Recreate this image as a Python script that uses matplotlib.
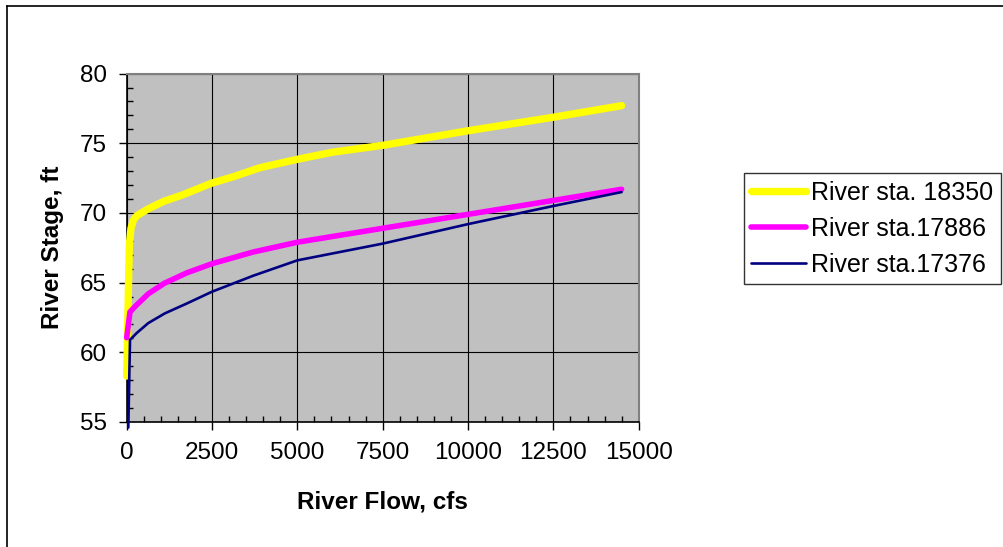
"""Rating curves (stage vs flow) at three river stations, Excel-style chart."""
import matplotlib
matplotlib.use("Agg")
import matplotlib.pyplot as plt
from matplotlib.lines import Line2D
from matplotlib.ticker import MultipleLocator

plt.rcParams["font.family"] = ["Liberation Sans", "DejaVu Sans"]

# station 18350
flow_18350 = [0, 47, 77, 125, 200, 293, 633, 1100, 1640, 2500, 3125, 3905,
              5000, 6055, 7500, 10000, 12500, 14500]
stage_18350 = [58.3, 64.1, 67.7, 68.9, 69.5, 69.8, 70.3, 70.85, 71.3, 72.15,
               72.6, 73.25, 73.85, 74.37, 74.85, 75.9, 76.87, 77.7]

# station 17886
flow_17886 = [0, 97, 250, 633, 1100, 1758, 2500, 3710, 5000, 7500, 10000,
              12500, 14500]
stage_17886 = [61.05, 62.9, 63.3, 64.2, 64.95, 65.7, 66.36, 67.2, 67.9, 68.9,
               69.9, 70.9, 71.7]

# station 17376
flow_17376 = [47, 97, 300, 633, 1122, 1758, 2500, 3710, 5000, 7500, 10000,
              12500, 14500]
stage_17376 = [54.6, 60.9, 61.4, 62.1, 62.8, 63.5, 64.35, 65.5, 66.6, 67.8,
               69.2, 70.5, 71.5]

labels = ["River sta. 18350", "River sta.17886", "River sta.17376"]
colors = ["#FFFF00", "#FF00FF", "#000080"]
widths = [5.3, 4.0, 1.9]

W, H = 1004, 547
fig = plt.figure(figsize=(W / 100, H / 100), dpi=100)
ax = fig.add_axes([126.7 / W, 1 - 422 / H, 512 / W, 348.4 / H])
ax.set_facecolor("#C0C0C0")

series = [(flow_18350, stage_18350), (flow_17886, stage_17886),
          (flow_17376, stage_17376)]
for (x, y), lab, c, lw in zip(series, labels, colors, widths):
    ax.plot(x, y, color=c, lw=lw, label=lab, solid_capstyle="round",
            solid_joinstyle="round", clip_on=False, zorder=3)

ax.set_xlim(0, 15000)
ax.set_ylim(55, 80)
ax.xaxis.set_major_locator(MultipleLocator(2500))
ax.xaxis.set_minor_locator(MultipleLocator(500))
ax.yaxis.set_major_locator(MultipleLocator(5))
ax.yaxis.set_minor_locator(MultipleLocator(1))
ax.grid(True, which="major", color="black", lw=0.8, zorder=1)
ax.set_axisbelow(True)

ax.tick_params(which="major", direction="out", length=5.8, width=1,
               labelsize=17.5, pad=8.5)
ax.tick_params(which="minor", direction="in", length=4.3, width=1)
for side in ("left", "bottom"):
    ax.spines[side].set_color("black")
    ax.spines[side].set_linewidth(1.2)
for side in ("top", "right"):
    ax.spines[side].set_color("#808080")
    ax.spines[side].set_linewidth(1.5)

fig.text(382.7 / W, 1 - 502 / H, "River Flow, cfs", ha="center",
         va="center", fontsize=17.5, fontweight="bold")
fig.text(53 / W, 1 - 247.8 / H, "River Stage, ft", ha="center",
         va="center", rotation=90, fontsize=17.5, fontweight="bold")

leg = fig.legend(loc="upper left", bbox_to_anchor=(744 / W, 1 - 173 / H),
                 fontsize=18, frameon=True, fancybox=False,
                 edgecolor="black", handlelength=2.2, handletextpad=0.2,
                 labelspacing=0.48, borderpad=0.3, borderaxespad=0)
leg.get_frame().set_linewidth(1.0)

# outer chart border
fig.add_artist(Line2D([7 / W, 1], [1 - 6 / H, 1 - 6 / H], color="black",
                      lw=1.2, transform=fig.transFigure))
fig.add_artist(Line2D([7 / W, 7 / W], [0, 1 - 6 / H], color="black",
                      lw=1.2, transform=fig.transFigure))

fig.savefig("out.png", dpi=100, facecolor="white")
